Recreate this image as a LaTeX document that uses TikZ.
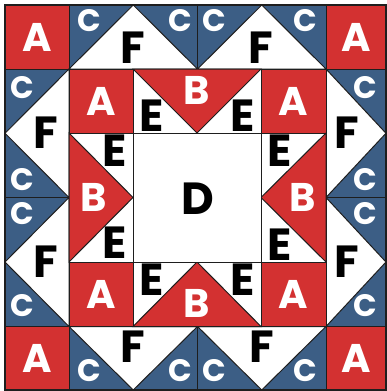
\documentclass[tikz,border=0pt]{standalone}
\usepackage{fontspec}
\setmainfont{Poppins}
\definecolor{qred}{HTML}{D33131}
\definecolor{qblue}{HTML}{3C5E85}
\definecolor{qline}{HTML}{1E1E1E}
\tikzset{
  piece/.style={draw=qline, line width=1pt, line join=miter},
  redp/.style={piece, fill=qred},
  bluep/.style={piece, fill=qblue},
  whitep/.style={piece, fill=white},
  wlab/.style={text=white, font=\bfseries\fontsize{40}{40}\selectfont, inner sep=0pt},
  clab/.style={text=white, font=\bfseries\fontsize{31}{31}\selectfont, inner sep=0pt},
  klab/.style={text=black, font=\bfseries\fontsize{45}{45}\selectfont, inner sep=0pt},
}
\begin{document}
\begin{tikzpicture}[x=1pt,y=-1pt]
\useasboundingbox (0,0) rectangle (387,391);
% corner A squares
\path[redp] (5,5) rectangle (69,69);
\path[redp] (326,5) rectangle (386,69);
\path[redp] (5,326.5) rectangle (69,390);
\path[redp] (326,326.5) rectangle (386,390);
% top row geese
\path[bluep] (69,5) rectangle (197.5,69);
\path[whitep] (133.25,5) -- (197.5,69) -- (69,69) -- cycle;
\path[bluep] (197.5,5) rectangle (326,69);
\path[whitep] (261.75,5) -- (326,69) -- (197.5,69) -- cycle;
% bottom row geese
\path[bluep] (69,326.5) rectangle (197.5,390);
\path[whitep] (133.25,390) -- (197.5,326.5) -- (69,326.5) -- cycle;
\path[bluep] (197.5,326.5) rectangle (326,390);
\path[whitep] (261.75,390) -- (326,326.5) -- (197.5,326.5) -- cycle;
% left column geese
\path[bluep] (5,69) rectangle (69,197.5);
\path[whitep] (5,133.25) -- (69,69) -- (69,197.5) -- cycle;
\path[bluep] (5,197.5) rectangle (69,326.5);
\path[whitep] (5,262) -- (69,197.5) -- (69,326.5) -- cycle;
% right column geese
\path[bluep] (326,69) rectangle (386,197.5);
\path[whitep] (386,133.25) -- (326,69) -- (326,197.5) -- cycle;
\path[bluep] (326,197.5) rectangle (386,326.5);
\path[whitep] (386,262) -- (326,197.5) -- (326,326.5) -- cycle;
% inner A squares
\path[redp] (69,69) rectangle (133,133);
\path[redp] (261,69) rectangle (326,133);
\path[redp] (69,262) rectangle (133,326.5);
\path[redp] (261,262) rectangle (326,326.5);
% inner geese
\path[whitep] (133,69) rectangle (261,133);
\path[redp] (133,69) -- (261,69) -- (197,133) -- cycle;
\path[whitep] (133,262) rectangle (261,326.5);
\path[redp] (133,326.5) -- (261,326.5) -- (197,262) -- cycle;
\path[whitep] (69,133) rectangle (133,262);
\path[redp] (69,133) -- (69,262) -- (133,197.5) -- cycle;
\path[whitep] (261,133) rectangle (326,262);
\path[redp] (326,133) -- (326,262) -- (261,197.5) -- cycle;
% center D
\path[whitep] (133,133) rectangle (261,262);
% outer border
\draw[qline, line width=1.6pt] (5,5) rectangle (386,390);
% labels
\node[wlab] (a1) at (37,37) {A};
\node[wlab] (a2) at (356,37) {A};
\node[wlab] (a3) at (37,358) {A};
\node[wlab] (a4) at (356,358) {A};
\node[wlab] (a5) at (101,101) {A};
\node[wlab] (a6) at (293,101) {A};
\node[wlab] (a7) at (101,294) {A};
\node[wlab] (a8) at (293,294) {A};
\node[wlab] (b1) at (197,90) {B};
\node[wlab] (b2) at (197,303) {B};
\node[wlab] (b3) at (94,197) {B};
\node[wlab] (b4) at (303,197) {B};
\node[klab] (d) at (198,199) {D};
\node[klab] (e1) at (152,116) {E};
\node[klab] (e2) at (243,116) {E};
\node[klab] (e3) at (115,151) {E};
\node[klab] (e4) at (280,151) {E};
\node[klab] (e5) at (115,243) {E};
\node[klab] (e6) at (280,245) {E};
\node[klab] (e7) at (152,280) {E};
\node[klab] (e8) at (243,280) {E};
\node[klab] (f1) at (133,48) {F};
\node[klab] (f2) at (261,48) {F};
\node[klab] (f3) at (133,347) {F};
\node[klab] (f4) at (262,347) {F};
\node[klab] (f5) at (46,133) {F};
\node[klab] (f6) at (46,262) {F};
\node[klab] (f7) at (347,133) {F};
\node[klab] (f8) at (347,262) {F};
\node[clab] (c1) at (89,21) {C};
\node[clab] (c2) at (180,21) {C};
\node[clab] (c3) at (214,21) {C};
\node[clab] (c4) at (305,21) {C};
\node[clab] (c5) at (89,371) {C};
\node[clab] (c6) at (180,371) {C};
\node[clab] (c7) at (214,371) {C};
\node[clab] (c8) at (305,371) {C};
\node[clab] (c9) at (22,88) {C};
\node[clab] (c10) at (22,180) {C};
\node[clab] (c11) at (22,214) {C};
\node[clab] (c12) at (22,306) {C};
\node[clab] (c13) at (365,88) {C};
\node[clab] (c14) at (365,180) {C};
\node[clab] (c15) at (365,214) {C};
\node[clab] (c16) at (365,306) {C};
\end{tikzpicture}
\end{document}
